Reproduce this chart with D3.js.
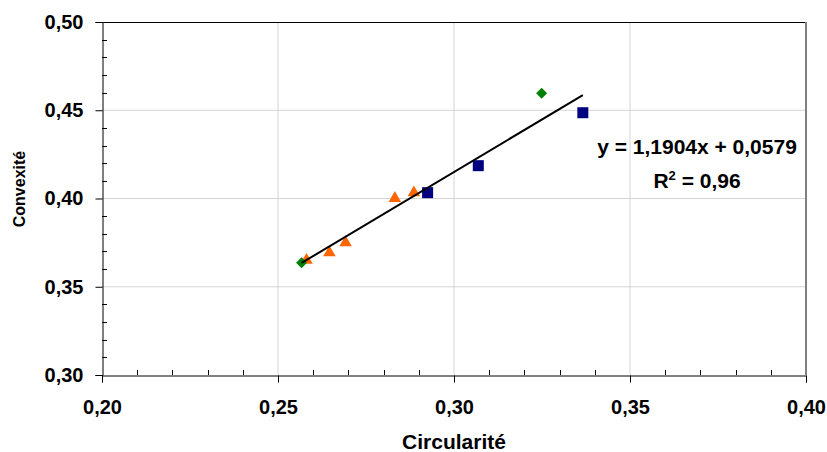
<!DOCTYPE html>
<html>
<head>
<meta charset="utf-8">
<script src="https://cdn.jsdelivr.net/npm/d3@7"></script>
<style>
  html, body { margin: 0; padding: 0; background: #fff; }
  svg { display: block; font-family: Arial, "Liberation Sans", sans-serif; }
</style>
</head>
<body>
<svg id="chart" width="827" height="452"></svg>
<script>
// ---- data ----
const triangleX = [0.2581, 0.2646, 0.2692, 0.2832, 0.2886];
const triangleY = [0.3656, 0.3699, 0.3755, 0.4007, 0.4039];
const squareX   = [0.2925, 0.3069, 0.3366];
const squareY   = [0.4033, 0.4186, 0.4486];
const diamondX  = [0.2567, 0.3249];
const diamondY  = [0.3636, 0.4596];
const trendSlope = 1.1904;
const trendIntercept = 0.0579;
const equationText = "y = 1,1904x + 0,0579";
const r2Value = "0,96";
const xTicks = [0.20, 0.25, 0.30, 0.35, 0.40];
const yTicks = [0.30, 0.35, 0.40, 0.45, 0.50];
const xTitle = "Circularité";
const yTitle = "Convexité";

// ---- layout ----
const svg = d3.select("#chart");
const L = 102, R = 806, T = 22, B = 375;
const x = d3.scaleLinear().domain([0.20, 0.40]).range([L, R]);
const y = d3.scaleLinear().domain([0.30, 0.50]).range([B, T]);
const fmt = d => d3.format(".2f")(d).replace(".", ",");

// gridlines
svg.append("g").selectAll("line.gx").data(xTicks.slice(1, -1)).join("line")
  .attr("x1", d => x(d)).attr("x2", d => x(d)).attr("y1", T).attr("y2", B)
  .attr("stroke", "#d4d4d4").attr("stroke-width", 1);
svg.append("g").selectAll("line.gy").data(yTicks.slice(1, -1)).join("line")
  .attr("x1", L).attr("x2", R).attr("y1", d => y(d)).attr("y2", d => y(d))
  .attr("stroke", "#d4d4d4").attr("stroke-width", 1);

// plot border (top black, right gray)
svg.append("line").attr("x1", L).attr("x2", R).attr("y1", T + 0.5).attr("y2", T + 0.5)
  .attr("stroke", "#000").attr("stroke-width", 1);
svg.append("line").attr("x1", R).attr("x2", R).attr("y1", T).attr("y2", B)
  .attr("stroke", "#808080").attr("stroke-width", 2);

// minor ticks (inside)
const xMinor = d3.range(0, 21).map(i => 0.20 + i * 0.01).filter(v => Math.round(v * 100) % 5 !== 0);
const yMinor = d3.range(0, 21).map(i => 0.30 + i * 0.01).filter(v => Math.round(v * 100) % 5 !== 0);

// x axis
const xAxis = d3.axisBottom(x).tickValues(xTicks).tickFormat(fmt).tickSize(7).tickPadding(17);
const gx = svg.append("g").attr("transform", `translate(0,${B + 0.5})`).call(xAxis);
gx.select(".domain").attr("stroke", "#000");
gx.selectAll(".tick line").attr("stroke", "#000");
gx.selectAll("text").attr("font-size", 20).attr("font-weight", "bold").attr("fill", "#000")
  .attr("font-family", "Arial, 'Liberation Sans', sans-serif");
svg.append("g").selectAll("line").data(xMinor).join("line")
  .attr("x1", d => Math.round(x(d)) + 0.5).attr("x2", d => Math.round(x(d)) + 0.5)
  .attr("y1", B).attr("y2", B - 5).attr("stroke", "#000");

// y axis
const yAxis = d3.axisLeft(y).tickValues(yTicks).tickFormat(fmt).tickSize(7).tickPadding(12);
const gy = svg.append("g").attr("transform", `translate(${L + 0.5},0)`).call(yAxis);
gy.select(".domain").attr("stroke", "#000");
gy.selectAll(".tick line").attr("stroke", "#000");
gy.selectAll("text").attr("font-size", 20).attr("font-weight", "bold").attr("fill", "#000")
  .attr("font-family", "Arial, 'Liberation Sans', sans-serif");
svg.append("g").selectAll("line").data(yMinor).join("line")
  .attr("x1", L).attr("x2", L + 5)
  .attr("y1", d => Math.round(y(d)) + 0.5).attr("y2", d => Math.round(y(d)) + 0.5)
  .attr("stroke", "#000");

// markers
const tri = d3.symbol().type(d3.symbolTriangle).size(68);
svg.append("g").selectAll("path").data(triangleX.map((v, i) => [v, triangleY[i]])).join("path")
  .attr("d", tri).attr("transform", d => `translate(${x(d[0])},${y(d[1]) + 1})`)
  .attr("fill", "#FF6600");
const sq = 11;
svg.append("g").selectAll("rect").data(squareX.map((v, i) => [v, squareY[i]])).join("rect")
  .attr("x", d => x(d[0]) - sq / 2).attr("y", d => y(d[1]) - sq / 2)
  .attr("width", sq).attr("height", sq).attr("fill", "#000080");
const dm = 5.5;
svg.append("g").selectAll("path").data(diamondX.map((v, i) => [v, diamondY[i]])).join("path")
  .attr("d", d => `M${x(d[0])},${y(d[1]) - dm}L${x(d[0]) + dm},${y(d[1])}L${x(d[0])},${y(d[1]) + dm}L${x(d[0]) - dm},${y(d[1])}Z`)
  .attr("fill", "#008000");

// trendline
const allX = triangleX.concat(squareX, diamondX);
const x0 = d3.min(allX), x1 = d3.max(allX);
svg.append("line")
  .attr("x1", x(x0)).attr("y1", y(trendSlope * x0 + trendIntercept))
  .attr("x2", x(x1)).attr("y2", y(trendSlope * x1 + trendIntercept))
  .attr("stroke", "#000").attr("stroke-width", 2);

// equation
svg.append("text").attr("x", 697).attr("y", 154).attr("text-anchor", "middle")
  .attr("font-size", 21).attr("font-weight", "bold").text(equationText);
const r2 = svg.append("text").attr("x", 697).attr("y", 188).attr("text-anchor", "middle")
  .attr("font-size", 21).attr("font-weight", "bold");
r2.append("tspan").text("R");
r2.append("tspan").attr("font-size", 13).attr("dy", -8).text("2");
r2.append("tspan").attr("dy", 8).text(" = " + r2Value);

// axis titles
svg.append("text").attr("x", 454).attr("y", 449).attr("text-anchor", "middle")
  .attr("font-size", 21).attr("font-weight", "bold").text(xTitle);
svg.append("text").attr("transform", "translate(25,189) rotate(-90)").attr("text-anchor", "middle")
  .attr("font-size", 16).attr("font-weight", "bold").text(yTitle);
</script>
</body>
</html>
